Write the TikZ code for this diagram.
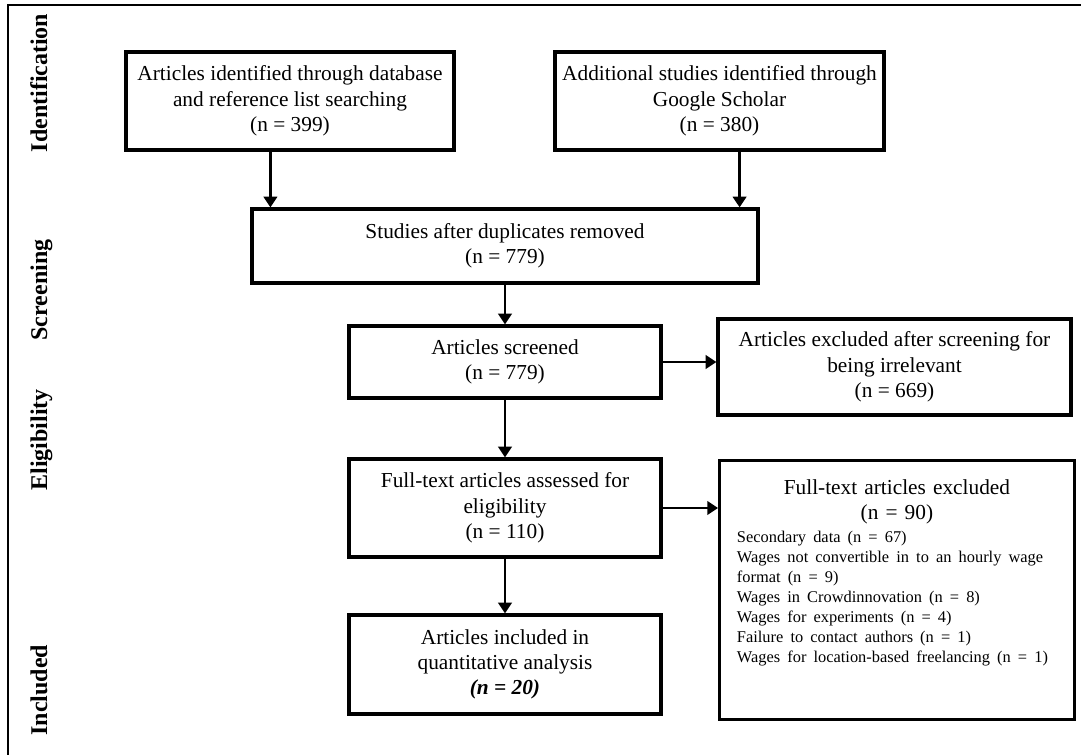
\documentclass[tikz,border=0pt]{standalone}
\usepackage{fontspec}
\setmainfont{Liberation Serif}
\usetikzlibrary{calc}
\usetikzlibrary{arrows.meta}
\newcommand{\listfont}{\fontsize{12.3pt}{15pt}\selectfont}

\begin{document}
\begin{tikzpicture}[x=0.75pt, y=-0.75pt,
	block/.style={draw, line width=2.4pt, align=center, inner sep=0pt, minimum width=234pt},
	phase/.style={rotate=90, anchor=base, font=\bfseries\fontsize{18pt}{22pt}\selectfont},
	flow/.style={line width=2pt, -{Triangle[length=8pt,width=10pt]}},
	font=\fontsize{16pt}{19pt}\selectfont]
	\useasboundingbox (0,0) rectangle (1081,755);
	\draw[line width=2.2pt] (8,755) -- (8,5) -- (1081,5);
	% phases
	\node[phase] (id) at (47,83) {Identification};
	\node[phase] (scr) at (47,290) {Screening};
	\node[phase] (eli) at (47,440) {Eligibility};
	\node[phase] (inc) at (47,690) {Included};
	% boxes
	\node[block, minimum width=246pt, minimum height=73.5pt] (A) at (290,101) {Articles identified through database\\and reference list searching\\(n = 399)};
	\node[block, minimum width=246.75pt, minimum height=73.5pt] (B) at (719.5,101) {Additional studies identified through\\Google Scholar\\(n = 380)};
	\node[block, minimum width=379.5pt, minimum height=55.5pt] (C) at (505,246) {Studies after duplicates removed\\(n = 779)};
	\node[block, minimum height=54pt] (D) at (505,362) {Articles screened\\(n = 779)};
	\node[block, minimum width=264.75pt, minimum height=72pt] (E) at (894.5,367) {Articles excluded after screening for\\being irrelevant\\(n = 669)};
	\node[block, minimum height=73.5pt] (F) at (505,508) {Full-text articles assessed for\\eligibility\\(n = 110)};
	\node[block, anchor=north west, align=left, text width=240pt, inner xsep=13pt, inner ysep=0pt, minimum width=0pt] (G) at (718,459)
	{\vbox to 194pt{\vskip 14pt
		\hbox to \hsize{\hfil Full-text articles excluded\hfil}
		\hbox to \hsize{\hfil (n = 90)\hfil}
		\vskip -2pt
		\hbox{\listfont\begin{tabular}[t]{@{}l@{}}Secondary data (n = 67)\\Wages not convertible in to an hourly wage\\format (n = 9)\\Wages in Crowdinnovation (n = 8)\\Wages for experiments (n = 4)\\Failure to contact authors (n = 1)\\Wages for location-based freelancing (n = 1)\end{tabular}}
		\vfill}};
	\node[block, minimum height=74.25pt] (H) at (505,664.5) {Articles included in\\quantitative analysis\\\textbf{\textit{(n = 20)}}};
	% arrows
	\coordinate (c1) at ($(C.north west)+(20,0)$);
	\coordinate (c2) at ($(C.north east)+(-20,0)$);
	\draw[flow] (c1 |- A.south) -- (c1);
	\draw[flow] (c2 |- B.south) -- (c2);
	\draw[flow] (C) -- (D);
	\draw[flow] (D) -- (F);
	\draw[flow] (F) -- (H);
	\draw[flow] (D.east) -- (D.east -| E.west);
	\draw[flow] (F.east) -- (F.east -| G.west);
\end{tikzpicture}
\end{document}
